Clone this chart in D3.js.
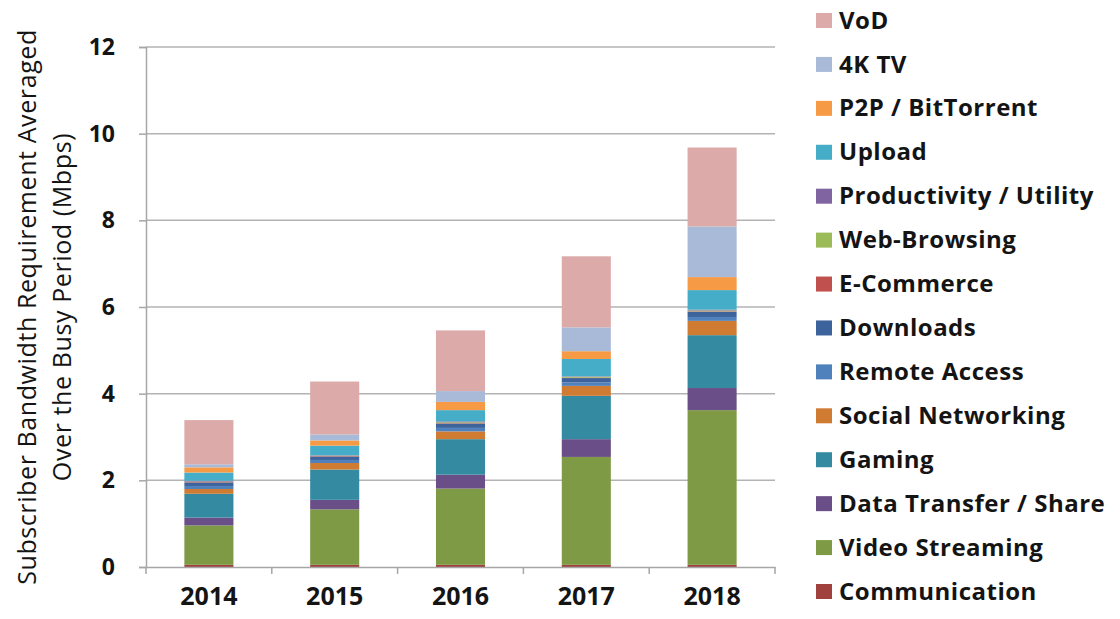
<!DOCTYPE html>
<meta charset="utf-8">
<head>
    <title>Subscriber Bandwidth Requirement</title>
    <script type="text/javascript" src="https://cdn.jsdelivr.net/npm/d3@7/dist/d3.min.js"></script>
    <style>
        body { margin: 0; background: #fff; }
        text { font-family: "Open Sans", Lato, sans-serif; }
    </style>
</head>
<body>
<script>
    // data (Mbps)
    var years = ['2014', '2015', '2016', '2017', '2018'];
    // stacked from bottom to top
    var series = ['Communication', 'Video Streaming', 'Data Transfer / Share', 'Gaming',
                  'Social Networking', 'Remote Access', 'Downloads', 'E-Commerce',
                  'Web-Browsing', 'Productivity / Utility', 'Upload', 'P2P / BitTorrent',
                  '4K TV', 'VoD'];
    var communication = [0.05, 0.05, 0.05, 0.05, 0.05];
    var videoStreaming = [0.91, 1.28, 1.76, 2.49, 3.57];
    var dataTransfer  = [0.18, 0.22, 0.32, 0.41, 0.51];
    var gaming        = [0.55, 0.70, 0.82, 1.00, 1.22];
    var social        = [0.11, 0.15, 0.18, 0.23, 0.33];
    var remoteAccess  = [0.07, 0.07, 0.08, 0.08, 0.09];
    var downloads     = [0.08, 0.08, 0.10, 0.10, 0.12];
    var eCommerce     = [0.01, 0.01, 0.01, 0.01, 0.01];
    var webBrowsing   = [0.01, 0.01, 0.02, 0.02, 0.02];
    var productivity  = [0.02, 0.01, 0.02, 0.01, 0.02];
    var upload        = [0.19, 0.22, 0.26, 0.40, 0.45];
    var p2p           = [0.12, 0.12, 0.19, 0.18, 0.30];
    var tv4k          = [0.07, 0.14, 0.25, 0.55, 1.17];
    var vod           = [1.02, 1.22, 1.40, 1.64, 1.82];
    var yTicks = [0, 2, 4, 6, 8, 10, 12];

    var values = [communication, videoStreaming, dataTransfer, gaming, social, remoteAccess,
                  downloads, eCommerce, webBrowsing, productivity, upload, p2p, tv4k, vod];
    var colors = ['#a0413e', '#7f9a44', '#6a4e88', '#338aa1', '#d07b32', '#4f81bd', '#3c639c',
                  '#c0504d', '#9bbb59', '#8064a2', '#45adc8', '#f79a46', '#a9bad8', '#dbaaa9'];

    var width = 1120, height = 619;
    var svg = d3.select('body').append('svg')
        .attr('width', width)
        .attr('height', height);

    var plot = {left: 146, right: 775, top: 47, bottom: 567};

    var x = d3.scaleBand().domain(years).range([plot.left, plot.right]);
    var y = d3.scaleLinear().domain([0, 12]).range([plot.bottom, plot.top]);
    var barW = x.bandwidth() * 0.39;

    // gridlines
    svg.append('g').selectAll('line')
        .data(yTicks.slice(1))
        .enter().append('line')
        .attr('x1', plot.left).attr('x2', plot.right)
        .attr('y1', function(d){ return y(d); })
        .attr('y2', function(d){ return y(d); })
        .attr('stroke', '#b3b3b3').attr('stroke-width', 1.5);

    // build table for the stack
    var table = years.map(function(yr, i){
        var row = {year: yr};
        series.forEach(function(s, k){ row[s] = values[k][i]; });
        return row;
    });
    var stacked = d3.stack().keys(series)(table);

    svg.append('g').selectAll('g')
        .data(stacked)
        .enter().append('g')
        .attr('fill', function(d, i){ return colors[i]; })
        .selectAll('rect')
        .data(function(d){ return d; })
        .enter().append('rect')
        .attr('x', function(d){ return x(d.data.year) + (x.bandwidth() - barW) / 2; })
        .attr('width', barW)
        .attr('y', function(d){ return y(d[1]); })
        .attr('height', function(d){ return y(d[0]) - y(d[1]); });

    // y axis
    var yAxis = d3.axisLeft(y).tickValues(yTicks).tickSize(7).tickPadding(24);
    var gy = svg.append('g').attr('transform', 'translate(' + plot.left + ',0)').call(yAxis);
    gy.select('.domain').attr('stroke', '#a6a6a6').attr('stroke-width', 1.5);
    gy.selectAll('.tick line').attr('stroke', '#a6a6a6').attr('stroke-width', 1.5);
    gy.selectAll('.tick text')
        .attr('font-size', 23).attr('font-weight', 'bold').attr('fill', '#141414')
        .style('font-family', '"Open Sans", sans-serif');

    // x axis
    var xAxis = d3.axisBottom(x).tickSize(0).tickPadding(29);
    var gx = svg.append('g').attr('transform', 'translate(0,' + plot.bottom + ')').call(xAxis);
    gx.select('.domain').attr('stroke', '#a6a6a6').attr('stroke-width', 1.5);
    gx.selectAll('.tick text')
        .attr('dy', '0.36em')
        .attr('font-size', 25).attr('font-weight', 'bold').attr('fill', '#141414')
        .style('font-family', '"Open Sans", sans-serif');
    // tick marks between categories
    var bounds = years.map(function(d){ return x(d); }).concat([plot.right]);
    gx.selectAll('.sep')
        .data(bounds)
        .enter().append('line')
        .attr('x1', function(d){ return d; }).attr('x2', function(d){ return d; })
        .attr('y1', 0).attr('y2', 7)
        .attr('stroke', '#a6a6a6').attr('stroke-width', 1.5);

    // y title
    var yt = svg.append('text')
        .attr('transform', 'translate(36,307) rotate(-90)')
        .attr('text-anchor', 'middle')
        .attr('font-size', 25).attr('letter-spacing', 0.6).attr('fill', '#141414');
    yt.append('tspan').attr('x', 0).attr('dy', 0).text('Subscriber Bandwidth Requirement Averaged');
    yt.append('tspan').attr('x', 0).attr('dy', 35).text('Over the Busy Period (Mbps)');

    // legend, top item is VoD
    var legendItems = series.slice().reverse();
    var legendColors = colors.slice().reverse();
    var leg = svg.append('g').attr('id', 'legend');
    var rowY = d3.scalePoint().domain(legendItems).range([20, 591]);
    leg.selectAll('rect')
        .data(legendItems)
        .enter().append('rect')
        .attr('x', 816).attr('y', function(d){ return rowY(d) - 7; })
        .attr('width', 16).attr('height', 15)
        .attr('fill', function(d, i){ return legendColors[i]; });
    leg.selectAll('text')
        .data(legendItems)
        .enter().append('text')
        .attr('x', 839).attr('y', function(d){ return rowY(d); })
        .attr('dy', '0.36em')
        .attr('font-size', 24).attr('letter-spacing', 0.5).attr('font-weight', 'bold').attr('fill', '#141414')
        .text(function(d){ return d; });
</script>
</body>
</html>
